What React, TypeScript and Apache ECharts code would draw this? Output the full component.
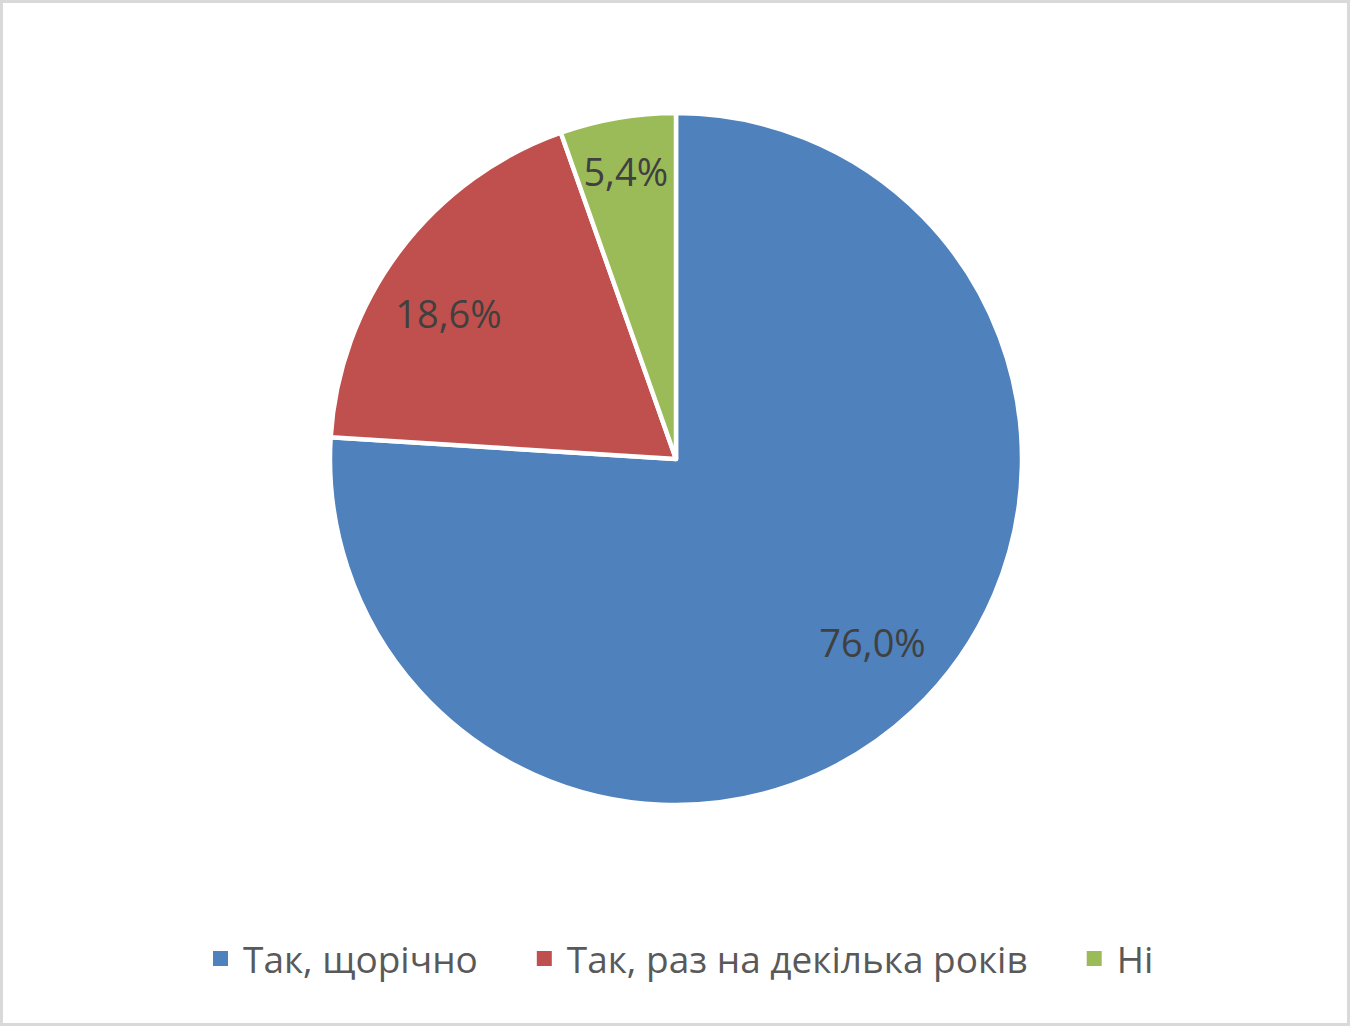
import React, { useEffect, useRef } from "react";
import * as echarts from "echarts";

const categories = ["Так, щорічно", "Так, раз на декілька років", "Ні"];
const values = [76.0, 18.6, 5.4];
const colors = ["#4f81bd", "#c0504d", "#9bbb59"];
const labelOffsets = [[9, -17], [-9, 19], [-4, -18]];

export default function App() {
  const ref = useRef<HTMLDivElement>(null);
  useEffect(() => {
    const chart = echarts.init(ref.current!, null, { renderer: "svg" });
    const data = categories.map((name, i) => ({
      name,
      value: values[i],
      itemStyle: { color: colors[i] },
    }));
    const fontFamily = "'Open Sans', 'Noto Sans', sans-serif";
    chart.setOption({
      animation: false,
      backgroundColor: "#ffffff",
      legend: {
        data: categories,
        left: 206,
        top: 935,
        itemWidth: 17,
        itemHeight: 17,
        itemGap: 57,
        icon: "rect",
        textStyle: { fontSize: 37, color: "#595959", fontFamily, padding: [0, 0, 0, 9] },
      },
      series: [
        {
          type: "pie",
          center: [676, 459],
          radius: [0, 346],
          startAngle: 90,
          clockwise: true,
          data,
          label: { show: false },
          labelLine: { show: false },
          itemStyle: { borderColor: "#ffffff", borderWidth: 4.5 },
          emphasis: { disabled: true },
        },
        {
          type: "pie",
          center: [676, 459],
          radius: [196, 346],
          startAngle: 90,
          clockwise: true,
          silent: true,
          data: data.map((d, i) => ({
            ...d,
            itemStyle: { color: "transparent" },
            label: { offset: labelOffsets[i] },
          })),
          itemStyle: { color: "transparent", borderWidth: 0 },
          label: {
            show: true,
            position: "inside",
            formatter: (p: any) => p.value.toFixed(1).replace(".", ",") + "%",
            fontSize: 38,
            color: "#404040",
            fontFamily,
          },
          labelLine: { show: false },
          emphasis: { disabled: true },
        },
      ],
    });
    return () => chart.dispose();
  }, []);
  return (
    <div style={{ position: "fixed", left: 0, top: 0, width: 1350, height: 1026 }}>
      <div ref={ref} style={{ position: "absolute", left: 0, top: 0, width: 1350, height: 1026 }} />
      <div
        style={{
          position: "absolute",
          left: 0,
          top: 0,
          width: 1350,
          height: 1026,
          boxSizing: "border-box",
          border: "3px solid #d9d9d9",
          pointerEvents: "none",
        }}
      />
    </div>
  );
}
